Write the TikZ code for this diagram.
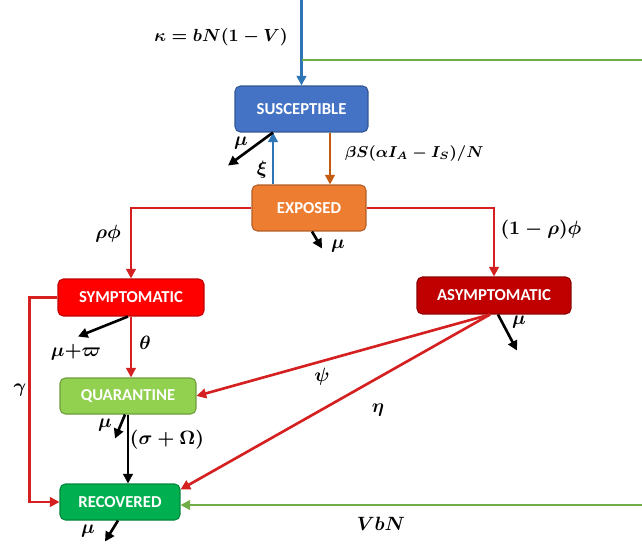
\documentclass[tikz,border=0pt]{standalone}
\usepackage{fontspec}
\newfontfamily\boxfont{Carlito}
\usepackage{amsmath}
\usepackage{xcolor}
\usepackage{tikz}
\usetikzlibrary{arrows.meta, positioning}
\definecolor{susBlue}{HTML}{4472C4}
\definecolor{expOrange}{HTML}{ED7D31}
\definecolor{symRed}{HTML}{FF0000}
\definecolor{asyRed}{HTML}{C00000}
\definecolor{quaGreen}{HTML}{92D050}
\definecolor{recGreen}{HTML}{00B050}
\definecolor{flowRed}{HTML}{D42020}
\definecolor{flowGreen}{HTML}{70AD47}
\definecolor{flowBlue}{HTML}{2E75B6}
\definecolor{flowOrange}{HTML}{C55A11}

\tikzset{
  compbox/.style={draw=#1!75!black, fill=#1, rounded corners=3pt,
    text=white, font=\boxfont\bfseries\fontsize{9.5}{11}\selectfont,
    line width=0.6pt},
  flow/.style={line width=1.5pt, -{Triangle[length=5.5pt,width=5.5pt]}},
  death/.style={flow, black},
  rate/.style={font=\boldmath\fontsize{10.5}{12}\selectfont}
}

\begin{document}
\begin{tikzpicture}[x=0.02cm, y=-0.02cm]
    \useasboundingbox (0,0) rectangle (642,544);
    % compartments
    \node[compbox=susBlue, minimum width=2.66cm, minimum height=0.92cm]
      (sus) at (301.5,109) {SUSCEPTIBLE};
    \node[compbox=expOrange, minimum width=2.28cm, minimum height=0.92cm]
      (exp) at (309,208) {EXPOSED};
    \node[compbox=symRed, minimum width=2.92cm, minimum height=0.74cm]
      (sym) at (131,297.5) {SYMPTOMATIC};
    \node[compbox=asyRed, minimum width=3.08cm, minimum height=0.74cm]
      (asy) at (494,295.5) {ASYMPTOMATIC};
    \node[compbox=quaGreen, minimum width=2.72cm, minimum height=0.72cm]
      (qua) at (128,396) {QUARANTINE};
    \node[compbox=recGreen, minimum width=2.40cm, minimum height=0.72cm]
      (rec) at (120,502) {RECOVERED};
    % recruitment and vaccinated share
    \coordinate (inflow) at (301.5,0);
    \coordinate (vtop) at (642,60);
    \coordinate (vbot) at (642,505);
    \draw[flow, flowBlue] (inflow) -- (sus.north);
    \node[rate, font=\boldmath\fontsize{10}{12}\selectfont] (kappa)
      at (221,37) {$\kappa = bN(1-V)$};
    \draw[line width=1.5pt, flowGreen] (sus.north |- vtop) -- (vtop);
    \draw[flow, flowGreen] (vbot) -- (vbot -| rec.east);
    \node[rate] (vbn) at (381,524) {$VbN$};
    % susceptible <-> exposed
    \draw[flow, flowBlue] ([xshift=-0.72cm]exp.north)
      -- ([xshift=-0.72cm]exp.north |- sus.south);
    \node[rate] (xi) at (262,170) {$\xi$};
    \draw[flow, flowOrange] ([xshift=0.57cm]sus.south)
      -- ([xshift=0.57cm]sus.south |- exp.north);
    \node[rate, anchor=west, font=\boldmath\fontsize{9}{11}\selectfont]
      (beta) at (339,154) {$\beta S(\alpha I_A - I_S)/N$};
    \draw[death] ([xshift=-0.57cm]sus.south) -- ++(-45,33);
    \node[rate] (musus) at (241,143) {$\mu$};
    \draw[death] ([xshift=0.06cm]exp.south) -- ++(10,17);
    \node[rate] (muexp) at (338,246) {$\mu$};
    % exposed splits
    \draw[flow, flowRed] (exp.west) -| (sym.north);
    \node[rate] (rhophi) at (108,234) {$\rho\phi$};
    \draw[flow, flowRed] (exp.east) -| (asy.north);
    \node[rate] (onerho) at (541,230) {$(1-\rho)\phi$};
    % symptomatic
    \draw[flow, flowRed] (sym.south) -- (sym.south |- qua.north);
    \node[rate] (theta) at (145,343) {$\theta$};
    \draw[death] ([xshift=-0.06cm]sym.south) -- ++(-50,20);
    \node[rate] (musym) at (76,352) {$\mu{+}\varpi$};
    \draw[flow, flowRed] (sym.west) -- ++(-28,0) |- (rec.west);
    \node[rate] (gamma) at (20,390) {$\gamma$};
    % asymptomatic
    \draw[death] ([xshift=0.08cm]asy.south) -- ++(19,36);
    \node[rate] (muasy) at (519,322) {$\mu$};
    \draw[flow, flowRed] ([xshift=-0.08cm]asy.south) -- (qua.east);
    \node[rate] (psi) at (322,377) {$\psi$};
    \draw[flow, flowRed] ([xshift=-0.08cm]asy.south)
      -- ([yshift=-0.12cm]rec.north east);
    \node[rate] (eta) at (378,410) {$\eta$};
    % quarantine and recovered
    \draw[death] (qua.south) -- (qua.south |- rec.north);
    \node[rate] (sigom) at (167,440) {$(\sigma+\Omega)$};
    \draw[death] ([xshift=-0.06cm]qua.south) -- ++(-10,24);
    \node[rate] (muqua) at (105,425) {$\mu$};
    \draw[death] ([xshift=-0.04cm]rec.south) -- ++(-13,21);
    \node[rate] (murec) at (88,531) {$\mu$};
  \end{tikzpicture}
\end{document}
